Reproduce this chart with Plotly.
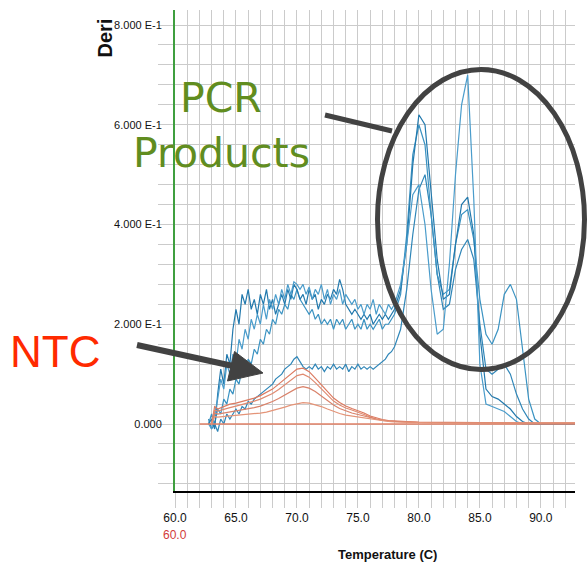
import plotly.graph_objects as go

# ---------------- data ----------------
blue_temps = [
    62.75, 63.00, 63.25, 63.50, 63.75, 64.00, 64.25, 64.50,
    64.75, 65.00, 65.25, 65.50, 65.75, 66.00, 66.25, 66.50,
    66.75, 67.00, 67.25, 67.50, 67.75, 68.00, 68.25, 68.50,
    68.75, 69.00, 69.25, 69.50, 69.75, 70.00, 70.25, 70.50,
    70.75, 71.00, 71.25, 71.50, 71.75, 72.00, 72.25, 72.50,
    72.75, 73.00, 73.25, 73.50, 73.75, 74.00, 74.25, 74.50,
    74.75, 75.00, 75.25, 75.50, 75.75, 76.00, 76.25, 76.50,
    76.75, 77.00, 77.25, 77.50, 77.75, 78.00,
    78.5, 79.0, 79.5, 80.0, 80.5, 81.0, 81.5, 82.0,
    82.5, 83.0, 83.5, 84.0, 84.5, 85.0, 85.5, 86.0,
    86.5, 87.0, 87.5, 88.0, 88.5, 89.0, 89.5, 90.0,
    90.5, 91.0, 91.5, 92.0, 92.5, 93.0,
]

pcr_a = [
    0.00, -0.01, 0.02, 0.05, 0.09, 0.07, 0.12, 0.10,
    0.14, 0.12, 0.17, 0.15, 0.19, 0.17, 0.21, 0.19,
    0.22, 0.20, 0.24, 0.21, 0.25, 0.23, 0.26, 0.24,
    0.27, 0.25, 0.28, 0.26, 0.285, 0.28, 0.27, 0.28,
    0.26, 0.275, 0.25, 0.27, 0.26, 0.28, 0.25, 0.27,
    0.24, 0.26, 0.25, 0.27, 0.24, 0.26, 0.25, 0.24,
    0.25, 0.23, 0.24, 0.22, 0.24, 0.23, 0.25, 0.22,
    0.24, 0.23, 0.22, 0.24, 0.23, 0.24,
    0.28, 0.36, 0.46, 0.48, 0.40, 0.27, 0.18, 0.19,
    0.32, 0.50, 0.64, 0.70, 0.45, 0.12, 0.04, 0.035,
    0.03, 0.025, 0.015, 0.005, 0.0, 0.0, 0.0, 0.0,
    0.0, 0.0, 0.0, 0.0, 0.0, 0.0,
]

pcr_b = [
    0.00, 0.01, -0.01, 0.06, 0.11, 0.08, 0.14, 0.12,
    0.19, 0.23, 0.20, 0.26, 0.24, 0.27, 0.23, 0.25,
    0.22, 0.26, 0.24, 0.27, 0.23, 0.25, 0.22, 0.24,
    0.26, 0.24, 0.27, 0.25, 0.28, 0.27, 0.25, 0.26,
    0.24, 0.27, 0.25, 0.26, 0.23, 0.25, 0.24, 0.26,
    0.25, 0.27, 0.26, 0.29, 0.27, 0.24, 0.23, 0.22,
    0.23, 0.22, 0.21, 0.22, 0.21, 0.22, 0.20, 0.21,
    0.22, 0.21, 0.22, 0.21, 0.22, 0.23,
    0.27, 0.36, 0.52, 0.62, 0.60, 0.47, 0.33, 0.25,
    0.26, 0.36, 0.44, 0.455, 0.38, 0.18, 0.07, 0.055,
    0.05, 0.04, 0.03, 0.015, 0.005, 0.0, 0.0, 0.0,
    0.0, 0.0, 0.0, 0.0, 0.0, 0.0,
]

pcr_c = [
    0.00, 0.02, 0.00, 0.03, 0.02, 0.05, 0.04, 0.07,
    0.06, 0.09, 0.08, 0.11, 0.10, 0.13, 0.12, 0.15,
    0.14, 0.17, 0.16, 0.19, 0.18, 0.21, 0.20, 0.23,
    0.22, 0.24, 0.23, 0.26, 0.25, 0.27, 0.25, 0.24,
    0.23, 0.22, 0.23, 0.21, 0.22, 0.20, 0.21, 0.20,
    0.21, 0.19, 0.21, 0.20, 0.21, 0.19, 0.20, 0.21,
    0.19, 0.20, 0.19, 0.21, 0.19, 0.20, 0.19, 0.20,
    0.21, 0.19, 0.20, 0.20, 0.21, 0.22,
    0.26, 0.38, 0.54, 0.60, 0.56, 0.42, 0.30, 0.26,
    0.27, 0.36, 0.42, 0.43, 0.37, 0.25, 0.18, 0.16,
    0.19, 0.26, 0.28, 0.25, 0.15, 0.05, 0.01, 0.0,
    0.0, 0.0, 0.0, 0.0, 0.0, 0.0,
]

pcr_d = [
    0.01, -0.01, 0.00, -0.015, 0.01, 0.00, 0.02, 0.01,
    0.02, 0.03, 0.02, 0.035, 0.03, 0.045, 0.04, 0.05,
    0.055, 0.06, 0.065, 0.07, 0.075, 0.08, 0.09, 0.095,
    0.10, 0.11, 0.115, 0.12, 0.13, 0.135, 0.125, 0.115,
    0.11, 0.115, 0.11, 0.12, 0.11, 0.115, 0.105, 0.115,
    0.11, 0.12, 0.11, 0.115, 0.11, 0.12, 0.105, 0.115,
    0.11, 0.12, 0.11, 0.115, 0.11, 0.115, 0.11, 0.115,
    0.12, 0.125, 0.13, 0.14, 0.145, 0.155,
    0.19, 0.27, 0.38, 0.47, 0.50, 0.42, 0.30, 0.23,
    0.24, 0.31, 0.35, 0.37, 0.33, 0.20, 0.11, 0.10,
    0.11, 0.12, 0.10, 0.06, 0.03, 0.01, 0.0, 0.0,
    0.0, 0.0, 0.0, 0.0, 0.0, 0.0,
]

ntc_temps = [
    63.0, 63.25, 63.5, 64.0, 64.5, 65.0, 65.5, 66.0, 66.5, 67.0,
    67.5, 68.0, 68.5, 69.0, 69.5, 70.0, 70.5, 71.0, 71.5, 72.0,
    72.5, 73.0, 73.5, 74.0, 74.5, 75.0, 75.5, 76.0, 76.5, 77.0,
    77.5, 78.0, 79.0, 80.0, 82.0, 85.0, 88.0, 90.0, 93.0,
]
ntc_1 = [
    0.0, 0.035, 0.03, 0.035, 0.04, 0.042, 0.045, 0.048, 0.052, 0.057,
    0.063, 0.070, 0.080, 0.090, 0.100, 0.110, 0.112, 0.105, 0.092, 0.078,
    0.064, 0.052, 0.043, 0.036, 0.031, 0.027, 0.022, 0.016, 0.012, 0.009,
    0.007, 0.006, 0.005, 0.004, 0.003, 0.003, 0.002, 0.002, 0.002,
]
ntc_2 = [
    0.0, 0.028, 0.026, 0.03, 0.033, 0.036, 0.039, 0.042, 0.046, 0.050,
    0.055, 0.061, 0.069, 0.078, 0.088, 0.097, 0.100, 0.094, 0.083, 0.070,
    0.057, 0.046, 0.038, 0.032, 0.028, 0.024, 0.019, 0.014, 0.010, 0.008,
    0.006, 0.005, 0.004, 0.003, 0.003, 0.002, 0.002, 0.002, 0.002,
]
ntc_3 = [
    0.0, 0.022, 0.020, 0.022, 0.024, 0.026, 0.028, 0.030, 0.033, 0.036,
    0.040, 0.045, 0.051, 0.058, 0.066, 0.072, 0.075, 0.072, 0.065, 0.056,
    0.046, 0.038, 0.031, 0.026, 0.022, 0.019, 0.016, 0.012, 0.009, 0.007,
    0.006, 0.005, 0.004, 0.003, 0.002, 0.002, 0.002, 0.002, 0.002,
]
ntc_4 = [
    0.0, 0.015, 0.014, 0.015, 0.016, 0.017, 0.018, 0.019, 0.020, 0.022,
    0.024, 0.027, 0.030, 0.034, 0.038, 0.041, 0.043, 0.042, 0.039, 0.035,
    0.030, 0.025, 0.021, 0.018, 0.016, 0.014, 0.012, 0.010, 0.008, 0.006,
    0.005, 0.004, 0.003, 0.003, 0.002, 0.002, 0.002, 0.002, 0.002,
]
baseline_temps = [62.0, 93.0]
baseline_vals = [0.0, 0.0]

x_tick_vals = [60, 65, 70, 75, 80, 85, 90]
x_tick_text = ["60.0", "65.0", "70.0", "75.0", "80.0", "85.0", "90.0"]
y_tick_vals = [0.0, 0.2, 0.4, 0.6, 0.8]
y_tick_text = ["0.000", "2.000 E-1", "4.000 E-1", "6.000 E-1", "8.000 E-1"]

# ---------------- layout helpers ----------------
W, H = 588, 563
ML, MR, MT, MB = 175, 13, 10, 72
PW, PH = W - ML - MR, H - MT - MB


def px(x):
    return (x - ML) / PW


def py(y):
    return (H - MB - y) / PH


SANS = "Liberation Sans, Arial, sans-serif"
GRID = "#cbcbcb"

fig = go.Figure()

blue_cols = ["#2f86b8", "#3b93c2", "#2279ad", "#4a9ccb"]
for vals, col in zip([pcr_d, pcr_c, pcr_b, pcr_a], blue_cols):
    fig.add_trace(go.Scatter(x=blue_temps, y=vals, mode="lines",
                             line=dict(color=col, width=1.2), hoverinfo="skip"))

fig.add_trace(go.Scatter(x=baseline_temps, y=baseline_vals, mode="lines",
                         line=dict(color="#e08066", width=1.6), hoverinfo="skip"))
salmon_cols = ["#dc7a60", "#e08a70", "#d9826a", "#e49478"]
for vals, col in zip([ntc_1, ntc_2, ntc_3, ntc_4], salmon_cols):
    fig.add_trace(go.Scatter(x=ntc_temps, y=vals, mode="lines",
                             line=dict(color=col, width=1.2), hoverinfo="skip"))

fig.update_layout(
    width=W, height=H,
    margin=dict(l=ML, r=MR, t=MT, b=MB, pad=0),
    paper_bgcolor="white", plot_bgcolor="white",
    showlegend=False,
    xaxis=dict(
        range=[60, 92.8], tickmode="array", tickvals=x_tick_vals, ticktext=x_tick_text,
        showgrid=True, gridcolor=GRID, gridwidth=1,
        ticks="outside", ticklen=15, tickcolor=GRID,
        tickfont=dict(family=SANS, size=12, color="#111"),
        showline=True, linecolor="black", linewidth=2, zeroline=False,
        minor=dict(tickmode="linear", tick0=60, dtick=1, showgrid=True, gridcolor=GRID,
                   ticks="outside", ticklen=15, tickcolor=GRID),
    ),
    yaxis=dict(
        range=[-0.1343, 0.8301], tickmode="array", tickvals=y_tick_vals, ticktext=y_tick_text,
        showgrid=True, gridcolor=GRID, gridwidth=1,
        ticks="outside", ticklen=9, tickcolor=GRID,
        tickfont=dict(family=SANS, size=11, color="#111"),
        showline=True, linecolor="#3f9f3f", linewidth=2, zeroline=False,
        minor=dict(tickmode="linear", tick0=0, dtick=0.04, showgrid=True, gridcolor=GRID,
                   ticks="outside", ticklen=15, tickcolor=GRID),
    ),
)

DARK = "#424242"
shapes = [
    dict(type="circle", xref="paper", yref="paper",
         x0=px(377.5), x1=px(584.5), y0=py(369.5), y1=py(69.5),
         line=dict(color=DARK, width=5), layer="above"),
    dict(type="line", xref="paper", yref="paper",
         x0=px(325), y0=py(115), x1=px(392), y1=py(131),
         line=dict(color=DARK, width=5), layer="above"),
    dict(type="line", xref="paper", yref="paper",
         x0=px(137), y0=py(345), x1=px(233), y1=py(366),
         line=dict(color=DARK, width=6), layer="above"),
    dict(type="path", xref="paper", yref="paper",
         path="M {:.5f},{:.5f} L {:.5f},{:.5f} L {:.5f},{:.5f} Z".format(
             px(263), py(373), px(227.5), py(381), px(234.5), py(351.5)),
         fillcolor=DARK, line=dict(color=DARK, width=1), layer="above"),
]
fig.update_layout(shapes=shapes)

annotations = [
    dict(text="PCR", x=px(221), y=py(98), xref="paper", yref="paper",
         xanchor="center", yanchor="middle", showarrow=False,
         font=dict(family="DejaVu Sans", size=41, color="#618d1f")),
    dict(text="Products", x=px(221), y=py(153), xref="paper", yref="paper",
         xanchor="center", yanchor="middle", showarrow=False,
         font=dict(family="DejaVu Sans", size=41, color="#618d1f")),
    dict(text="NTC", x=px(55), y=py(351), xref="paper", yref="paper",
         xanchor="center", yanchor="middle", showarrow=False,
         font=dict(family=SANS, size=44, color="#ff2a00")),
    dict(text="60.0", x=60, y=py(535), xref="x", yref="paper",
         xanchor="center", yanchor="middle", showarrow=False,
         font=dict(family=SANS, size=12, color="#d23a3a")),
    dict(text="<b>Temperature (C)</b>", x=px(387), y=py(554), xref="paper", yref="paper",
         xanchor="center", yanchor="middle", showarrow=False,
         font=dict(family=SANS, size=13, color="#111")),
    dict(text="<b>Deri</b>", x=px(104), y=py(60), xref="paper", yref="paper",
         xanchor="center", yanchor="bottom", showarrow=False, textangle=-90,
         font=dict(family=SANS, size=20, color="#111")),
]
fig.update_layout(annotations=annotations)

fig.write_html("out.html")
